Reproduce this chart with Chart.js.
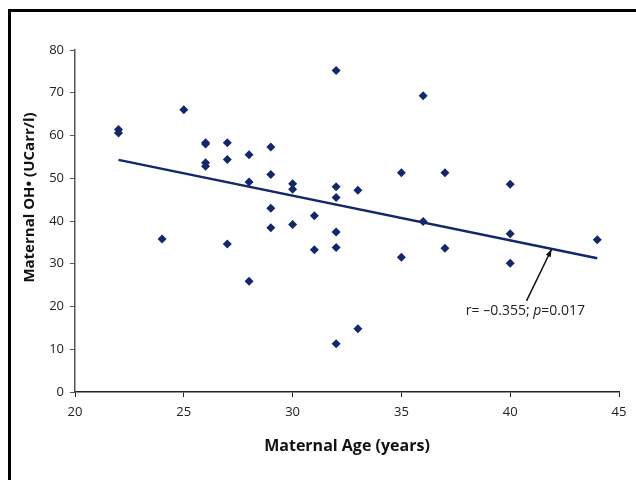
<!DOCTYPE html>
<html>
<head>
<meta charset="utf-8">
<script src="https://cdn.jsdelivr.net/npm/chart.js@4"></script>
<style>
  body { margin: 0; width: 636px; height: 480px; overflow: hidden; background: #fff; }
  .frame { position: absolute; left: 8px; top: 9px; width: 700px; height: 600px; border: 3px solid #000; }
  .wrap { position: absolute; left: 0; top: 0; width: 636px; height: 480px; }
</style>
</head>
<body>
<div class="frame"></div>
<div class="wrap"><canvas id="chart" width="636" height="480"></canvas></div>
<script>
// données
const ages = [22, 22, 24, 25, 26, 26, 26, 26, 27, 27, 27, 28, 28, 28,
              29, 29, 29, 29, 30, 30, 30, 31, 31, 32, 32, 32, 32, 32, 32,
              33, 33, 35, 35, 36, 36, 37, 37, 40, 40, 40, 44];
const ohValues = [61.4, 60.6, 35.8, 66.0, 58.3, 58.0, 53.6, 52.8, 58.3, 54.4, 34.6, 55.5, 49.1, 25.9,
                  57.3, 50.9, 43.0, 38.4, 48.7, 47.4, 39.2, 41.2, 33.3, 75.2, 48.0, 45.5, 37.4, 33.8, 11.3,
                  47.2, 14.8, 51.3, 31.5, 69.3, 39.9, 51.3, 33.6, 48.6, 37.0, 30.1, 35.6];
const trendAges = [22, 44];
const trendValues = [54.3, 31.3];
const xTicks = [20, 25, 30, 35, 40, 45];
const yTicks = [0, 10, 20, 30, 40, 50, 60, 70, 80];
const yTitle = 'Maternal OH\u2022 (UCarr/l)';
const statLabel = ['r= \u20130.355; ', 'p', '=0.017'];

const navy = '#13286b';
const font = "'Open Sans', 'DejaVu Sans', sans-serif";

const annotationPlugin = {
    id: 'annotation',
    afterDatasetsDraw(chart) {
        const { ctx, scales: { x, y } } = chart;
        // flèche
        const x0 = x.getPixelForValue(40.75), y0 = y.getPixelForValue(21.3);
        const x1 = x.getPixelForValue(41.9), y1 = y.getPixelForValue(33.4);
        ctx.save();
        ctx.strokeStyle = '#111';
        ctx.fillStyle = '#111';
        ctx.lineWidth = 1.5;
        ctx.beginPath();
        ctx.moveTo(x0, y0);
        ctx.lineTo(x1, y1);
        ctx.stroke();
        const ang = Math.atan2(y1 - y0, x1 - x0);
        ctx.beginPath();
        ctx.moveTo(x1, y1);
        ctx.lineTo(x1 - 8 * Math.cos(ang - 0.35), y1 - 8 * Math.sin(ang - 0.35));
        ctx.lineTo(x1 - 8 * Math.cos(ang + 0.35), y1 - 8 * Math.sin(ang + 0.35));
        ctx.closePath();
        ctx.fill();

        // texte r / p
        ctx.fillStyle = '#222';
        ctx.textBaseline = 'middle';
        const fonts = ['14px ' + font, 'italic 14px ' + font, '14px ' + font];
        let w = 0;
        statLabel.forEach((t, i) => { ctx.font = fonts[i]; w += ctx.measureText(t).width; });
        let tx = x.getPixelForValue(40.7) - w / 2;
        const ty = y.getPixelForValue(19.0);
        statLabel.forEach((t, i) => {
            ctx.font = fonts[i];
            ctx.fillText(t, tx, ty);
            tx += ctx.measureText(t).width;
        });

        // titre de l'axe vertical (un peu au-dessus du centre, comme l'original)
        ctx.translate(30, y.getPixelForValue(45.5));
        ctx.rotate(-Math.PI / 2);
        ctx.font = 'bold 15px ' + font;
        ctx.fillStyle = '#111';
        ctx.textAlign = 'center';
        ctx.fillText(yTitle, 0, 0);
        ctx.restore();
    }
};

new Chart(document.getElementById('chart'), {
    type: 'scatter',
    data: {
        datasets: [{
            data: ages.map((a, i) => ({ x: a, y: ohValues[i] })),
            pointStyle: 'rectRot',
            pointRadius: 4.5,
            backgroundColor: navy,
            borderColor: navy,
            borderWidth: 0
        }, {
            type: 'line',
            data: trendAges.map((a, i) => ({ x: a, y: trendValues[i] })),
            borderColor: navy,
            borderWidth: 2.5,
            pointRadius: 0,
            fill: false
        }]
    },
    options: {
        responsive: false,
        animation: false,
        layout: { padding: { top: 50, right: 17, bottom: 0, left: 0 } },
        plugins: { legend: { display: false }, tooltip: { enabled: false } },
        scales: {
            x: {
                type: 'linear',
                min: 20, max: 45,
                afterBuildTicks: s => { s.ticks = xTicks.map(v => ({ value: v })); },
                afterFit: s => { s.height = 88; },
                grid: { drawOnChartArea: false, drawTicks: true, tickLength: 5, color: '#222', lineWidth: 1 },
                border: { color: '#222', width: 1.5 },
                ticks: { color: '#222', font: { family: font, size: 13 }, padding: 7, maxRotation: 0 },
                title: {
                    display: true, text: 'Maternal Age (years)', color: '#111',
                    font: { family: font, size: 16, weight: 'bold' }, padding: { top: 0, bottom: 24 }
                }
            },
            y: {
                min: 0, max: 80,
                afterBuildTicks: s => { s.ticks = yTicks.map(v => ({ value: v })); },
                afterFit: s => { s.width = 75; },
                grid: { drawOnChartArea: false, drawTicks: true, tickLength: 5, color: '#555', lineWidth: 1 },
                border: { color: '#555', width: 1.5 },
                ticks: { color: '#222', font: { family: font, size: 13 }, padding: 6 }
            }
        }
    },
    plugins: [annotationPlugin]
});
</script>
</body>
</html>
